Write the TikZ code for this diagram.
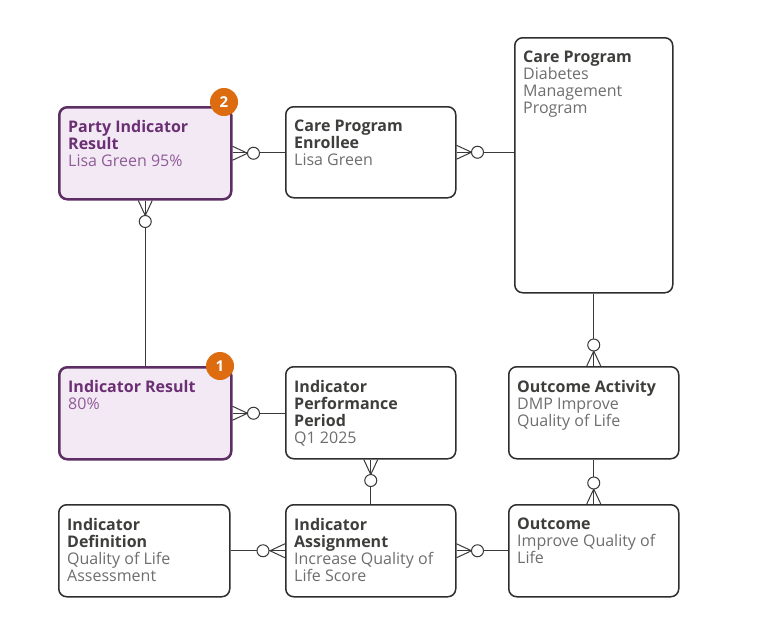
\documentclass[tikz,border=0pt]{standalone}
\usepackage{fontspec}
\setmainfont{Open Sans}
\definecolor{boxline}{HTML}{2E2E2E}
\definecolor{titlegray}{HTML}{3E3E3C}
\definecolor{subgray}{HTML}{6E6E6E}
\definecolor{purpline}{HTML}{5C2E63}
\definecolor{purpfill}{HTML}{F3E9F5}
\definecolor{purptitle}{HTML}{6B2F73}
\definecolor{purpsub}{HTML}{8E5C96}
\definecolor{badge}{HTML}{DD6B10}
\definecolor{connc}{HTML}{3A3A3A}
\tikzset{
  ebox/.style={draw=boxline, line width=1.5pt, rounded corners=8pt, fill=white, inner sep=0pt, anchor=north west},
  pbox/.style={draw=purpline, line width=2.5pt, rounded corners=8pt, fill=purpfill, inner sep=0pt, anchor=north west},
  etext/.style={anchor=north west, inner sep=0pt, align=left, font=\fontsize{16}{17}\selectfont, text=subgray},
  ptext/.style={etext, text=purpsub},
  conn/.style={draw=connc, line width=1pt},
  circ/.style={circle, draw=connc, line width=1pt, fill=white, minimum size=12pt, inner sep=0pt},
  badgestyle/.style={circle, fill=badge, minimum size=28pt, inner sep=0pt, text=white, font=\fontsize{15}{15}\selectfont\bfseries}
}
\newcommand\crowE[1]{\draw[conn] ([yshift=7pt]#1.east) -- ([xshift=15pt]#1.east) -- ([yshift=-7pt]#1.east);}
\newcommand\crowW[1]{\draw[conn] ([yshift=7pt]#1.west) -- ([xshift=-15pt]#1.west) -- ([yshift=-7pt]#1.west);}
\newcommand\crowS[1]{\draw[conn] ([xshift=7pt]#1.south) -- ([yshift=-15pt]#1.south) -- ([xshift=-7pt]#1.south);}
\newcommand\crowN[1]{\draw[conn] ([xshift=7pt]#1.north) -- ([yshift=15pt]#1.north) -- ([xshift=-7pt]#1.north);}
\begin{document}
\begin{tikzpicture}[x=1pt,y=-1pt]
\useasboundingbox[fill=white] (0,0) rectangle (763,619);
% boxes
\node[pbox, minimum width=172pt, minimum height=92pt] (pir) at (58,106) {};
\node[ebox, minimum width=170pt, minimum height=91pt] (cpe) at (285,106) {};
\node[ebox, minimum width=158pt, minimum height=255pt] (cp) at (514,37) {};
\node[pbox, minimum width=172pt, minimum height=92pt] (ir) at (58,366) {};
\node[ebox, minimum width=170pt, minimum height=92pt] (ipp) at (285,366) {};
\node[ebox, minimum width=170pt, minimum height=92pt] (oa) at (508,366) {};
\node[ebox, minimum width=171pt, minimum height=92pt] (idf) at (58,504) {};
\node[ebox, minimum width=170pt, minimum height=92pt] (ia) at (285,504) {};
\node[ebox, minimum width=170pt, minimum height=92pt] (oc) at (508,504) {};
% texts
\node[ptext] (tpir) at (68,120) {\textcolor{purptitle}{\bfseries Party Indicator}\\\textcolor{purptitle}{\bfseries Result}\\Lisa Green 95\%};
\node[etext] (tcpe) at (294,120) {\textcolor{titlegray}{\bfseries Care Program}\\\textcolor{titlegray}{\bfseries Enrollee}\\Lisa Green};
\node[etext] (tcp) at (523,51) {\textcolor{titlegray}{\bfseries Care Program}\\Diabetes\\Management\\Program};
\node[ptext] (tir) at (68,380) {\textcolor{purptitle}{\bfseries Indicator Result}\\80\%};
\node[etext] (tipp) at (294,380) {\textcolor{titlegray}{\bfseries Indicator}\\\textcolor{titlegray}{\bfseries Performance}\\\textcolor{titlegray}{\bfseries Period}\\Q1 2025};
\node[etext] (toa) at (517,380) {\textcolor{titlegray}{\bfseries Outcome Activity}\\DMP Improve\\Quality of Life};
\node[etext] (tidf) at (67,518) {\textcolor{titlegray}{\bfseries Indicator}\\\textcolor{titlegray}{\bfseries Definition}\\Quality of Life\\Assessment};
\node[etext] (tia) at (294,518) {\textcolor{titlegray}{\bfseries Indicator}\\\textcolor{titlegray}{\bfseries Assignment}\\Increase Quality of\\Life Score};
\node[etext] (toc) at (517,518) {\textcolor{titlegray}{\bfseries Outcome}\\Improve Quality of\\Life};
% connectors
\draw[conn] (pir.east |- 0,152) coordinate (a1) -- (cpe.west |- 0,152) coordinate (b1);
\draw[conn] (cpe.east) -- (cp.west |- cpe.east);
\draw[conn] (pir.south) -- (ir.north);
\draw[conn] (ir.east) -- (ipp.west |- ir.east);
\draw[conn] (ipp.south) -- (ia.north -| ipp.south);
\draw[conn] (cp.south) -- (oa.north);
\draw[conn] (oa.south) -- (oc.north);
\draw[conn] (idf.east) -- (ia.west);
\draw[conn] (ia.east) -- (oc.west);
% crow's feet and circles
\crowE{pir} \node[circ] (c1) at ([xshift=21pt]pir.east) {};
\crowE{cpe} \node[circ] (c2) at ([xshift=21pt]cpe.east) {};
\crowS{pir} \node[circ] (c3) at ([yshift=-21pt]pir.south) {};
\crowE{ir} \node[circ] (c4) at ([xshift=21pt]ir.east) {};
\crowS{ipp} \node[circ] (c5) at ([yshift=-21pt]ipp.south) {};
\crowN{oa} \node[circ] (c6) at ([yshift=21pt]oa.north) {};
\crowN{oc} \node[circ] (c7) at ([yshift=21pt]oc.north) {};
\crowW{ia} \node[circ] (c8) at ([xshift=-22pt]ia.west) {};
\crowE{ia} \node[circ] (c9) at ([xshift=21pt]ia.east) {};
% badges
\node[badgestyle] (b2) at (224,102) {2};
\node[badgestyle] (b1) at (220,366) {1};
\end{tikzpicture}
\end{document}
